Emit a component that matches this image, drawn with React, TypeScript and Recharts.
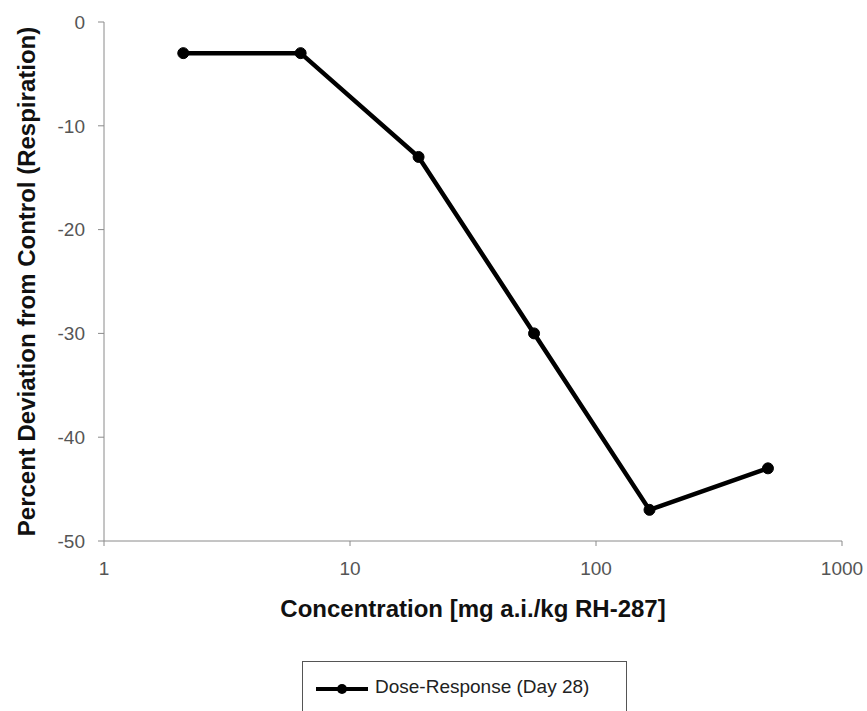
import React from 'react';
import { LineChart, Line, XAxis, YAxis } from 'recharts';

const concentrations = [2.1, 6.3, 19, 56, 165, 500];
const deviations = [-3, -3, -13, -30, -47, -43];
const xTicks = [1, 10, 100, 1000];
const yTicks = [0, -10, -20, -30, -40, -50];
const seriesName = 'Dose-Response (Day 28)';

const data = concentrations.map((c, i) => ({ conc: c, dev: deviations[i] }));

const FONT = '"Liberation Sans", Arial, Helvetica, sans-serif';

export default function App() {
  return (
    <div style={{ position: 'absolute', left: 0, top: 0, width: 867, height: 711, background: '#fff', fontFamily: FONT }}>
      <LineChart width={867} height={711} data={data} margin={{ top: 22, right: 25, bottom: 0, left: 0 }}>
        <XAxis
          dataKey="conc"
          type="number"
          scale="log"
          domain={[1, 1000]}
          ticks={xTicks}
          allowDataOverflow
          height={170}
          stroke="#8a8a8a"
          tickSize={5}
          tick={{ fill: '#555', fontSize: 19, fontFamily: FONT }}
          tickMargin={16}
          label={{ value: 'Concentration [mg a.i./kg RH-287]', position: 'insideTop', offset: 59, style: { fontWeight: 'bold', fontSize: 24, fill: '#111', fontFamily: FONT } }}
        />
        <XAxis xAxisId="top" orientation="top" type="number" scale="log" domain={[1, 1000]} height={0} tick={false} tickLine={false} stroke="#8a8a8a" />
        <YAxis
          type="number"
          domain={[-50, 0]}
          ticks={yTicks}
          width={104}
          stroke="#8a8a8a"
          tickSize={6}
          tickMargin={13}
          tick={{ fill: '#555', fontSize: 19, fontFamily: FONT }}
          label={{ value: 'Percent Deviation from Control (Respiration)', angle: -90, position: 'insideLeft', offset: 26, style: { textAnchor: 'middle', fontWeight: 'bold', fontSize: 24, fill: '#111', fontFamily: FONT } }}
        />
        <YAxis yAxisId="right" orientation="right" type="number" domain={[-50, 0]} width={0} tick={false} tickLine={false} stroke="#8a8a8a" />
        <Line
          dataKey="dev"
          name={seriesName}
          stroke="#000"
          strokeWidth={4.5}
          dot={{ r: 5.5, fill: '#000', stroke: '#000', strokeWidth: 1 }}
          isAnimationActive={false}
        />
      </LineChart>
      <div style={{ position: 'absolute', left: 302, top: 661, width: 325, height: 60, border: '1.5px solid #555', boxSizing: 'border-box', background: '#fff' }}>
        <svg width={60} height={20} style={{ position: 'absolute', left: 12, top: 17 }}>
          <line x1={1} y1={10} x2={53} y2={10} stroke="#000" strokeWidth={4} />
          <circle cx={27} cy={10} r={5} fill="#000" />
        </svg>
        <span style={{ position: 'absolute', left: 72, top: 14, fontSize: 19, color: '#222', whiteSpace: 'nowrap', fontFamily: FONT }}>{seriesName}</span>
      </div>
    </div>
  );
}
